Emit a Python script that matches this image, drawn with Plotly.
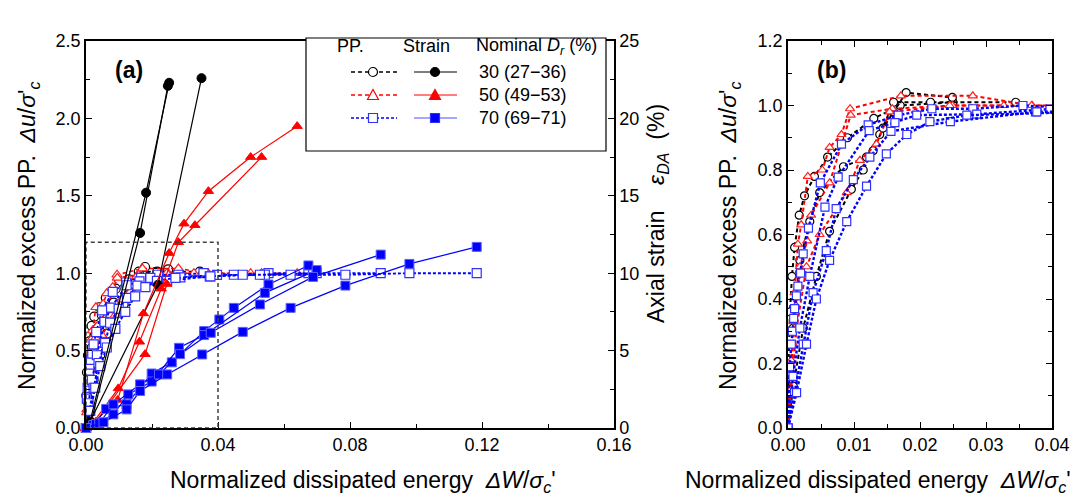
import plotly.graph_objects as go

W, H = 1083, 498

# ---------------- data ----------------
# Pore-pressure ratio (PP) curves, Dr = 30 % (three tests)
pp30_x = [
    [0, 0.0001, 0.0003, 0.0006, 0.001, 0.0017, 0.0025, 0.004, 0.006, 0.009, 0.013, 0.017, 0.025],
    [0, 0.0004, 0.0008, 0.0018, 0.0033, 0.0048, 0.0084, 0.0119, 0.0139, 0.016, 0.0216, 0.0345],
    [0, 0.0008, 0.0023, 0.0043, 0.0063, 0.0096, 0.0114, 0.0129, 0.0144, 0.016, 0.0179, 0.0249],
]
pp30_y = [
    [0, 0.21, 0.36, 0.47, 0.56, 0.66, 0.72, 0.78, 0.84, 0.90, 0.96, 1.00, 1.01],
    [0, 0.17, 0.31, 0.52, 0.64, 0.73, 0.81, 0.84, 0.91, 1.01, 1.01, 1.01],
    [0, 0.13, 0.31, 0.47, 0.61, 0.74, 0.80, 0.86, 0.93, 0.98, 1.04, 1.025],
]
# Dr = 50 %
pp50_x = [
    [0, 0.0002, 0.0005, 0.0008, 0.001, 0.0015, 0.002, 0.003, 0.0052, 0.0063, 0.0081, 0.0094, 0.0171, 0.028, 0.037, 0.0499, 0.064],
    [0, 0.0003, 0.00076, 0.0012, 0.0018, 0.0029, 0.0035, 0.0063, 0.0095, 0.0158, 0.0249, 0.0369, 0.0532],
    [0, 0.0005, 0.0013, 0.0028, 0.0048, 0.0089, 0.0109, 0.0134, 0.0154, 0.0245, 0.0327],
]
pp50_y = [
    [0, 0.10, 0.21, 0.33, 0.42, 0.57, 0.63, 0.78, 0.80, 0.87, 0.91, 0.99, 1.03, 1.03, 1.00, 1.00, 1.00],
    [0, 0.12, 0.26, 0.38, 0.50, 0.58, 0.66, 0.76, 0.97, 0.99, 1.00, 1.00, 1.00],
    [0, 0.12, 0.31, 0.50, 0.60, 0.73, 0.83, 0.88, 0.98, 1.00, 1.00],
]
# Dr = 70 %
pp70_x = [
    [0, 0.00025, 0.0005, 0.00066, 0.00086, 0.001, 0.00127, 0.0015, 0.0019, 0.0023, 0.0031, 0.0049, 0.0081, 0.01215, 0.0167, 0.0218, 0.028, 0.0356, 0.0448, 0.0553, 0.0674],
    [0, 0.00076, 0.0018, 0.0033, 0.0056, 0.0076, 0.0123, 0.0162, 0.0195, 0.0286, 0.0397, 0.0542, 0.0699],
    [0, 0.001, 0.0023, 0.0038, 0.0058, 0.0073, 0.0099, 0.0124, 0.0156, 0.0246, 0.0375, 0.0527, 0.0688, 0.0893],
    [0, 0.0013, 0.0028, 0.0043, 0.0063, 0.0089, 0.0119, 0.0149, 0.018, 0.0215, 0.0271, 0.0377, 0.0475, 0.062, 0.0786, 0.098, 0.1184],
]
pp70_y = [
    [0, 0.19, 0.26, 0.30, 0.34, 0.37, 0.41, 0.44, 0.48, 0.54, 0.62, 0.76, 0.88, 0.94, 0.97, 0.99, 0.99, 1.00, 0.99, 1.00, 1.00],
    [0, 0.16, 0.31, 0.47, 0.685, 0.778, 0.922, 0.947, 0.97, 0.973, 0.989, 0.99, 1.00],
    [0, 0.11, 0.26, 0.42, 0.55, 0.68, 0.77, 0.84, 0.92, 0.95, 0.98, 0.99, 1.00, 1.00],
    [0, 0.11, 0.26, 0.40, 0.52, 0.64, 0.75, 0.85, 0.91, 0.95, 0.97, 0.98, 0.99, 0.99, 0.99, 1.00, 1.00],
]

# Double-amplitude axial strain (%) curves
st30_x = [
    [0, 0.0005, 0.0012, 0.0182, 0.0252],
    [0, 0.0006, 0.0012, 0.0218, 0.035],
    [0, 0.0008, 0.0015, 0.0164, 0.0248],
]
st30_y = [
    [0, 0.1, 0.4, 15.2, 22.3],
    [0, 0.1, 0.4, 9.25, 22.6],
    [0, 0.1, 0.4, 12.6, 22.1],
]
st50_x = [
    [0, 0.0015, 0.0096, 0.0174, 0.0252, 0.0297, 0.0371, 0.0499, 0.064],
    [0, 0.002, 0.0098, 0.0162, 0.0228, 0.028, 0.033, 0.0532],
    [0, 0.003, 0.0179, 0.0245],
]
st50_y = [
    [0, 0.2, 1.81, 7.4, 11.3, 13.2, 15.3, 17.5, 19.5],
    [0, 0.3, 2.56, 5.57, 9.0, 12.0, 13.1, 17.5],
    [0, 0.4, 4.77, 9.3],
]
st70_x = [
    [0, 0.0022, 0.0061, 0.0123, 0.0199, 0.026, 0.0358, 0.0404, 0.0448, 0.0553, 0.0674],
    [0, 0.003, 0.0083, 0.0128, 0.0199, 0.0282, 0.0358, 0.0542, 0.0699],
    [0, 0.004, 0.0083, 0.0164, 0.0221, 0.0285, 0.0378, 0.0527, 0.0688, 0.0893],
    [0, 0.0053, 0.0123, 0.0164, 0.0246, 0.0352, 0.0475, 0.062, 0.0786, 0.098, 0.1184],
]
st70_y = [
    [0, 0.19, 1.23, 1.53, 3.52, 4.24, 6.26, 7.01, 7.76, 9.27, 10.5],
    [0, 0.25, 0.88, 2.17, 3.0, 5.18, 6.0, 8.73, 10.2],
    [0, 0.3, 1.53, 2.82, 3.46, 4.77, 6.15, 7.98, 9.76, 11.2],
    [0, 0.37, 1.2, 2.39, 3.46, 4.75, 6.21, 7.76, 9.2, 10.6, 11.7],
]

legend_labels = ["30 (27\u221236)", "50 (49\u221253)", "70 (69\u221271)"]

# ---------------- styles ----------------
FONT = "Liberation Sans, Arial, sans-serif"
groups = [
    dict(ppx=pp30_x, ppy=pp30_y, stx=st30_x, sty=st30_y, color="#000000", ocolor="#000000",
         sym="circle", dash="4px,3px", pw=2.0),
    dict(ppx=pp50_x, ppy=pp50_y, stx=st50_x, sty=st50_y, color="#FF0000", ocolor="#FF2020",
         sym="triangle-up", dash="4px,3px", pw=2.0),
    dict(ppx=pp70_x, ppy=pp70_y, stx=st70_x, sty=st70_y, color="#0000FF", ocolor="#3030FF",
         sym="square", dash="3px,2px", pw=2.4),
]

fig = go.Figure()

# panel (a) PP curves
for g in groups:
    for xs, ys in zip(g["ppx"], g["ppy"]):
        fig.add_trace(go.Scatter(
            x=xs, y=ys, xaxis="x", yaxis="y", mode="lines+markers", cliponaxis=False,
            line=dict(color=g["color"], width=g["pw"] * 0.8, dash=g["dash"]),
            marker=dict(symbol=g["sym"], size=9, color="white",
                        line=dict(color=g["ocolor"], width=1.2)),
            hoverinfo="skip"))

# panel (a) strain curves (right axis)
for g in groups:
    for xs, ys in zip(g["stx"], g["sty"]):
        fig.add_trace(go.Scatter(
            x=xs, y=ys, xaxis="x", yaxis="y2", mode="lines+markers", cliponaxis=False,
            line=dict(color=g["color"], width=1.2),
            marker=dict(symbol=g["sym"], size=9, color=g["color"],
                        line=dict(color="#6060FF" if g["sym"] == "square" else g["color"], width=1)),
            hoverinfo="skip"))

# panel (b) PP curves (zoom)
for g in groups:
    for xs, ys in zip(g["ppx"], g["ppy"]):
        fig.add_trace(go.Scatter(
            x=xs, y=ys, xaxis="x2", yaxis="y3", mode="lines+markers", cliponaxis=True,
            line=dict(color=g["color"], width=g["pw"], dash=g["dash"]),
            marker=dict(symbol=g["sym"], size=8, color="white",
                        line=dict(color=g["ocolor"], width=1.2)),
            hoverinfo="skip"))


def px(x):
    return x / W


def py(y):
    return 1 - y / H


A_L, A_R, T, B = 86, 614, 41, 428
B_L, B_R = 788, 1052

axis_common = dict(showline=True, linecolor="black", linewidth=1.5, ticks="inside",
                   tickcolor="black", ticklen=6, tickwidth=1.2, showgrid=False,
                   zeroline=False, automargin=False,
                   tickfont=dict(family=FONT, size=18, color="black"))

fig.update_layout(
    width=W, height=H, autosize=False,
    margin=dict(l=0, r=0, t=0, b=0, autoexpand=False),
    paper_bgcolor="white", plot_bgcolor="white", showlegend=False,
    xaxis=dict(domain=[px(A_L), px(A_R)], range=[0, 0.16], anchor="y", dtick=0.04,
               tickformat=".2f", mirror=True,
               minor=dict(dtick=0.02, ticks="inside", ticklen=4, tickcolor="black"),
               **axis_common),
    yaxis=dict(domain=[py(B), py(T)], range=[0, 2.5], anchor="x", dtick=0.5,
               tickformat=".1f", mirror=True,
               minor=dict(dtick=0.25, ticks="inside", ticklen=4, tickcolor="black"),
               **axis_common),
    yaxis2=dict(overlaying="y", side="right", anchor="x", range=[0, 25], dtick=5,
                minor=dict(dtick=2.5, ticks="inside", ticklen=4, tickcolor="black"),
                **axis_common),
    xaxis2=dict(domain=[px(B_L), px(B_R)], range=[0, 0.04], anchor="y3", dtick=0.01,
                tickformat=".2f", mirror="ticks",
                minor=dict(dtick=0.005, ticks="inside", ticklen=4, tickcolor="black"),
                **axis_common),
    yaxis3=dict(domain=[py(B), py(T)], range=[0, 1.2], anchor="x2", dtick=0.2,
                tickformat=".1f", mirror="ticks",
                minor=dict(dtick=0.1, ticks="inside", ticklen=4, tickcolor="black"),
                **axis_common),
)

# dashed zoom-window rectangle in panel (a)
fig.add_shape(type="rect", xref="x", yref="y", x0=0, x1=0.04, y0=0, y1=1.2,
              line=dict(color="#404040", width=1.5, dash="4px,3px"), layer="above")

# ---------- titles ----------
tfont = dict(family=FONT, size=23, color="black")
pp_title = "Normalized excess PP.  <i>\u0394u</i>/<i>\u03c3</i>'<sub><i>c</i></sub>"
en_title = "Normalized dissipated energy  <i>\u0394W</i>/<i>\u03c3</i><sub><i>c</i></sub>'"
ann = [
    dict(text=pp_title, x=px(28), y=py(236), textangle=-90),
    dict(text=pp_title, x=px(729), y=py(236), textangle=-90),
    dict(text="Axial strain    <i>\u03b5</i><sub><i>DA</i></sub>  (%)", x=px(657), y=py(214), textangle=-90),
    dict(text=en_title, x=px(363), y=py(481)),
    dict(text=en_title, x=px(878), y=py(481)),
]
for a in ann:
    fig.add_annotation(xref="paper", yref="paper", showarrow=False, font=tfont,
                       xanchor="center", yanchor="middle", **a)

pfont = dict(family=FONT, size=23, color="black")
fig.add_annotation(xref="paper", yref="paper", x=px(129), y=py(70), text="<b>(a)</b>",
                   showarrow=False, font=pfont, xanchor="center", yanchor="middle")
fig.add_annotation(xref="paper", yref="paper", x=px(831), y=py(70), text="<b>(b)</b>",
                   showarrow=False, font=pfont, xanchor="center", yanchor="middle")

# ---------- custom legend box ----------
LB = dict(x0=306, x1=606, y0=38, y1=151)
fig.add_shape(type="rect", xref="paper", yref="paper",
              x0=px(LB["x0"]), x1=px(LB["x1"]), y0=py(LB["y1"]), y1=py(LB["y0"]),
              line=dict(color="black", width=1.2), fillcolor="white", layer="above")

lfont = dict(family=FONT, size=18, color="black")
header = [("PP.", 350), ("Strain", 426), ("Nominal <i>D</i><sub><i>r</i></sub> (%)", 536)]
for txt, xc in header:
    fig.add_annotation(xref="paper", yref="paper", x=px(xc), y=py(46), text=txt,
                       showarrow=False, font=lfont, xanchor="center", yanchor="middle")

rows_y = [72, 95, 118]
for g, label, ry in zip(groups, legend_labels, rows_y):
    yy = py(ry)
    fig.add_shape(type="line", xref="paper", yref="paper", x0=px(351), x1=px(397), y0=yy, y1=yy,
                  line=dict(color=g["color"], width=1.6, dash=g["dash"]), layer="above")
    fig.add_shape(type="line", xref="paper", yref="paper", x0=px(414), x1=px(457), y0=yy, y1=yy,
                  line=dict(color=g["color"] if g["sym"] != "square" else "#5050FF", width=1.2),
                  layer="above")
    for cx, filled in ((373, False), (435, True)):
        fill = g["color"] if filled else "white"
        r = 4.5
        if g["sym"] == "circle":
            fig.add_shape(type="circle", xref="paper", yref="paper",
                          x0=px(cx - r), x1=px(cx + r), y0=py(ry + r), y1=py(ry - r),
                          line=dict(color=g["color"], width=1.2), fillcolor=fill, layer="above")
        elif g["sym"] == "square":
            fig.add_shape(type="rect", xref="paper", yref="paper",
                          x0=px(cx - r), x1=px(cx + r), y0=py(ry + r), y1=py(ry - r),
                          line=dict(color=g["ocolor"], width=1.2), fillcolor=fill, layer="above")
        else:
            path = "M {:.5f} {:.5f} L {:.5f} {:.5f} L {:.5f} {:.5f} Z".format(
                px(cx - 5.5), py(ry + 4.5), px(cx + 5.5), py(ry + 4.5), px(cx), py(ry - 5.5))
            fig.add_shape(type="path", xref="paper", yref="paper", path=path,
                          line=dict(color=g["color"], width=1.2), fillcolor=fill, layer="above")
    fig.add_annotation(xref="paper", yref="paper", x=px(477), y=yy, text=label,
                       showarrow=False, font=lfont, xanchor="left", yanchor="middle")

fig.write_html(
    "out.html",
    config={"displayModeBar": False},
    post_script="document.body.style.margin='0';document.body.style.overflow='hidden';",
)
